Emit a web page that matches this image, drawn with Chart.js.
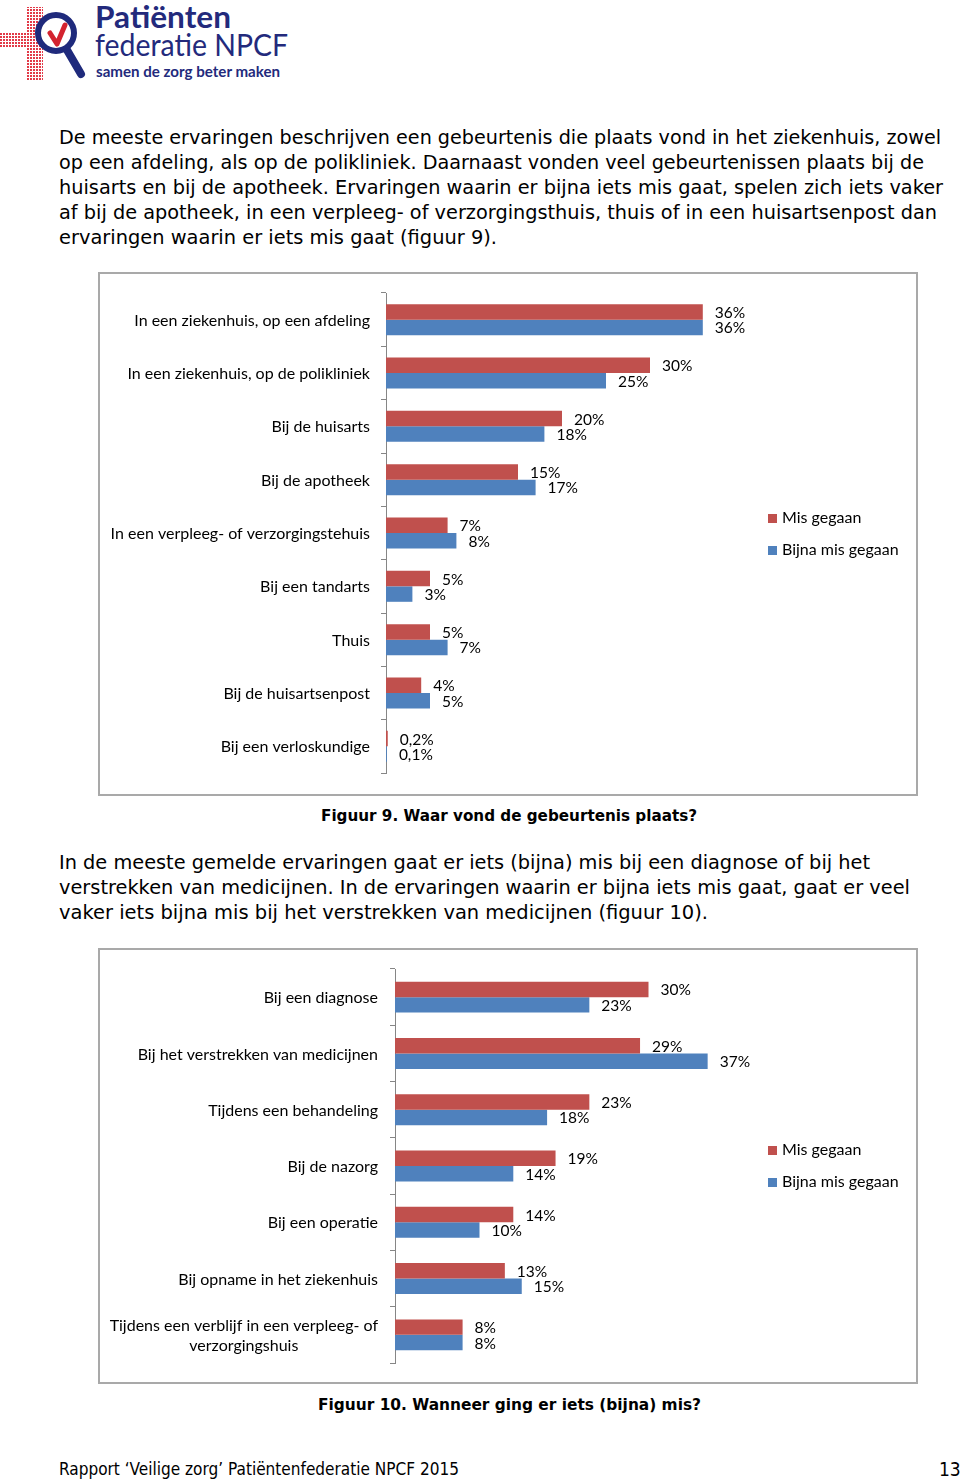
<!DOCTYPE html>
<html>
<head>
<meta charset="utf-8">
<script src="https://cdn.jsdelivr.net/npm/chart.js"></script>
<style>
  body { margin: 0; background: #fff; }
  #page { position: relative; width: 960px; height: 1482px; overflow: hidden; font-family: "DejaVu Sans", Verdana, sans-serif; color: #000; }
  .t { position: absolute; white-space: nowrap; transform-origin: 0 50%; }
  .body { font-size: 19px; line-height: 25px; left: 59px; }
  .cap { font-size: 16px; font-weight: bold; line-height: 20px; }
  .foot { font-family: "DejaVu Sans Condensed", "DejaVu Sans", sans-serif; font-size: 17px; line-height: 20px; }
  .chartbox { position: absolute; left: 98px; width: 820px; }
  .frame { position: absolute; left: 98px; width: 820px; border: 2px solid #a9a9a9; box-sizing: border-box; pointer-events: none; }
  .leg { position: absolute; left: 768px; font-family: Lato, sans-serif; font-size: 16px; line-height: 18px; white-space: nowrap; }
  .leg i { display: inline-block; width: 9px; height: 9px; margin-right: 5px; vertical-align: 0px; }
</style>
</head>
<body>
<div id="page">
  <svg width="300" height="90" style="position:absolute;left:0;top:0">
    <defs>
      <pattern id="dots" width="3" height="3" patternUnits="userSpaceOnUse">
        <rect width="2" height="2" fill="#e23a48"/>
      </pattern>
    </defs>
    <rect x="27" y="7" width="16" height="73" fill="url(#dots)"/>
    <rect x="0" y="32" width="48" height="16" fill="url(#dots)"/>
    <line x1="67" y1="50" x2="81" y2="74" stroke="#1f2a7c" stroke-width="8" stroke-linecap="round"/>
    <circle cx="56" cy="33" r="18" fill="#fff" stroke="#1f2a7c" stroke-width="6"/>
    <path d="M50 33 L57 44 L65 25" fill="none" stroke="#d3232f" stroke-width="5" stroke-linecap="round" stroke-linejoin="round"/>
    <text x="95" y="28" font-family="Lato" font-weight="700" font-size="30" fill="#232a7c" textLength="136" lengthAdjust="spacingAndGlyphs">Patiënten</text>
    <text x="95" y="56" font-family="Lato" font-size="30" fill="#232a7c" textLength="193" lengthAdjust="spacingAndGlyphs">federatie NPCF</text>
    <text x="96" y="77" font-family="Lato" font-weight="700" font-size="15" fill="#232a7c" textLength="184" lengthAdjust="spacingAndGlyphs">samen de zorg beter maken</text>
  </svg>

  <div class="t body" style="top:125px" data-w="882">De meeste ervaringen beschrijven een gebeurtenis die plaats vond in het ziekenhuis, zowel</div>
  <div class="t body" style="top:150px" data-w="865">op een afdeling, als op de polikliniek. Daarnaast vonden veel gebeurtenissen plaats bij de</div>
  <div class="t body" style="top:175px" data-w="884">huisarts en bij de apotheek. Ervaringen waarin er bijna iets mis gaat, spelen zich iets vaker</div>
  <div class="t body" style="top:200px" data-w="878">af bij de apotheek, in een verpleeg- of verzorgingsthuis, thuis of in een huisartsenpost dan</div>
  <div class="t body" style="top:225px" data-w="438">ervaringen waarin er iets mis gaat (figuur 9).</div>

  <div class="chartbox" style="top:272px;height:524px"><canvas id="chart1" width="820" height="524"></canvas></div>
  <div class="frame" style="top:272px;height:524px"></div>
  <div class="leg" style="top:508px"><i style="background:#C0504D"></i>Mis gegaan</div>
  <div class="leg" style="top:540px"><i style="background:#4F81BD"></i>Bijna mis gegaan</div>
  <div class="t cap" style="top:806px;left:321px" data-w="376">Figuur 9. Waar vond de gebeurtenis plaats?</div>

  <div class="t body" style="top:850px" data-w="811">In de meeste gemelde ervaringen gaat er iets (bijna) mis bij een diagnose of bij het</div>
  <div class="t body" style="top:875px" data-w="851">verstrekken van medicijnen. In de ervaringen waarin er bijna iets mis gaat, gaat er veel</div>
  <div class="t body" style="top:900px" data-w="649">vaker iets bijna mis bij het verstrekken van medicijnen (figuur 10).</div>

  <div class="chartbox" style="top:948px;height:436px"><canvas id="chart2" width="820" height="436"></canvas></div>
  <div class="frame" style="top:948px;height:436px"></div>
  <div class="leg" style="top:1140px"><i style="background:#C0504D"></i>Mis gegaan</div>
  <div class="leg" style="top:1172px"><i style="background:#4F81BD"></i>Bijna mis gegaan</div>
  <div class="t cap" style="top:1395px;left:318px" data-w="383">Figuur 10. Wanneer ging er iets (bijna) mis?</div>

  <div class="t foot" style="top:1459px;left:59px" data-w="400">Rapport ‘Veilige zorg’ Patiëntenfederatie NPCF 2015</div>
  <div class="t foot" style="top:1459px;left:939px;font-size:19px">13</div>
</div>

<script>
// figuur 9: waar vond de gebeurtenis plaats
const places = [
    'In een ziekenhuis, op een afdeling',
    'In een ziekenhuis, op de polikliniek',
    'Bij de huisarts',
    'Bij de apotheek',
    'In een verpleeg- of verzorgingstehuis',
    'Bij een tandarts',
    'Thuis',
    'Bij de huisartsenpost',
    'Bij een verloskundige'
];
const placesMis = [36, 30, 20, 15, 7, 5, 5, 4, 0.2];
const placesBijna = [36, 25, 18, 17, 8, 3, 7, 5, 0.1];

// figuur 10: wanneer ging er iets (bijna) mis
const moments = [
    'Bij een diagnose',
    'Bij het verstrekken van medicijnen',
    'Tijdens een behandeling',
    'Bij de nazorg',
    'Bij een operatie',
    'Bij opname in het ziekenhuis',
    ['Tijdens een verblijf in een verpleeg- of', 'verzorgingshuis']
];
const momentsMis = [30, 29, 23, 19, 14, 13, 8];
const momentsBijna = [23, 37, 18, 14, 10, 15, 8];

const seriesNames = ['Mis gegaan', 'Bijna mis gegaan'];
const RED = '#C0504D';
const BLUE = '#4F81BD';
const LABEL_FONT = '16px Lato';
const VALUE_FONT = '15.5px Lato';

function pct(v) {
    return String(v).replace('.', ',') + '%';
}

// category labels drawn by hand so the two-line one can be centred
const catLabels = {
    id: 'catLabels',
    afterDraw(chart, args, opts) {
        const ctx = chart.ctx;
        const y = chart.scales.y;
        const right = y.right - opts.gap;
        ctx.save();
        ctx.font = LABEL_FONT;
        ctx.fillStyle = '#000';
        ctx.textBaseline = 'middle';
        chart.data.labels.forEach((lab, i) => {
            const yc = y.getPixelForValue(i) + 1;
            const lines = [].concat(lab);
            if (lines.length === 1) {
                ctx.textAlign = 'right';
                ctx.fillText(lines[0], right, yc);
            } else {
                const w = Math.max(...lines.map(l => ctx.measureText(l).width));
                ctx.textAlign = 'center';
                lines.forEach((l, k) => {
                    ctx.fillText(l, right - w / 2, yc + (k - (lines.length - 1) / 2) * 20);
                });
            }
        });
        ctx.restore();
    }
};

const valueLabels = {
    id: 'valueLabels',
    afterDatasetsDraw(chart) {
        const ctx = chart.ctx;
        ctx.save();
        ctx.font = VALUE_FONT;
        ctx.fillStyle = '#000';
        ctx.textAlign = 'left';
        ctx.textBaseline = 'middle';
        chart.data.datasets.forEach((ds, di) => {
            chart.getDatasetMeta(di).data.forEach((bar, i) => {
                ctx.fillText(pct(ds.data[i]), bar.x + 12, bar.y + 1);
            });
        });
        ctx.restore();
    }
};

function makeChart(id, labels, mis, bijna, opt) {
    const canvas = document.getElementById(id);
    return new Chart(canvas, {
        type: 'bar',
        data: {
            labels,
            datasets: [
                { label: seriesNames[0], data: mis, backgroundColor: RED },
                { label: seriesNames[1], data: bijna, backgroundColor: BLUE }
            ]
        },
        options: {
            indexAxis: 'y',
            responsive: false,
            animation: false,
            layout: {
                padding: { left: 0, top: opt.top, bottom: opt.bottom, right: canvas.width - opt.left - 50 * opt.pxPerPct }
            },
            datasets: {
                bar: { categoryPercentage: opt.catPct, barPercentage: 1 }
            },
            scales: {
                x: { display: false, min: 0, max: 50 },
                y: {
                    afterFit: s => { s.width = opt.left; },
                    ticks: { display: false },
                    grid: { drawOnChartArea: false, drawTicks: true, tickLength: 5, color: '#868686' },
                    border: { color: '#868686' }
                }
            },
            plugins: {
                legend: { display: false },
                tooltip: { enabled: false },
                catLabels: { gap: opt.gap }
            }
        },
        plugins: [catLabels, valueLabels]
    });
}

makeChart('chart1', places, placesMis, placesBijna,
    { left: 288, top: 21, bottom: 23, pxPerPct: 8.8, catPct: 0.58, gap: 16 });
makeChart('chart2', moments, momentsMis, momentsBijna,
    { left: 297, top: 21, bottom: 21, pxPerPct: 8.45, catPct: 0.55, gap: 17 });

// squeeze each text line to the width it has on the printed page
document.querySelectorAll('[data-w]').forEach(el => {
    const w = el.getBoundingClientRect().width;
    el.style.transform = 'scaleX(' + (el.dataset.w / w) + ')';
});
</script>
</body>
</html>
